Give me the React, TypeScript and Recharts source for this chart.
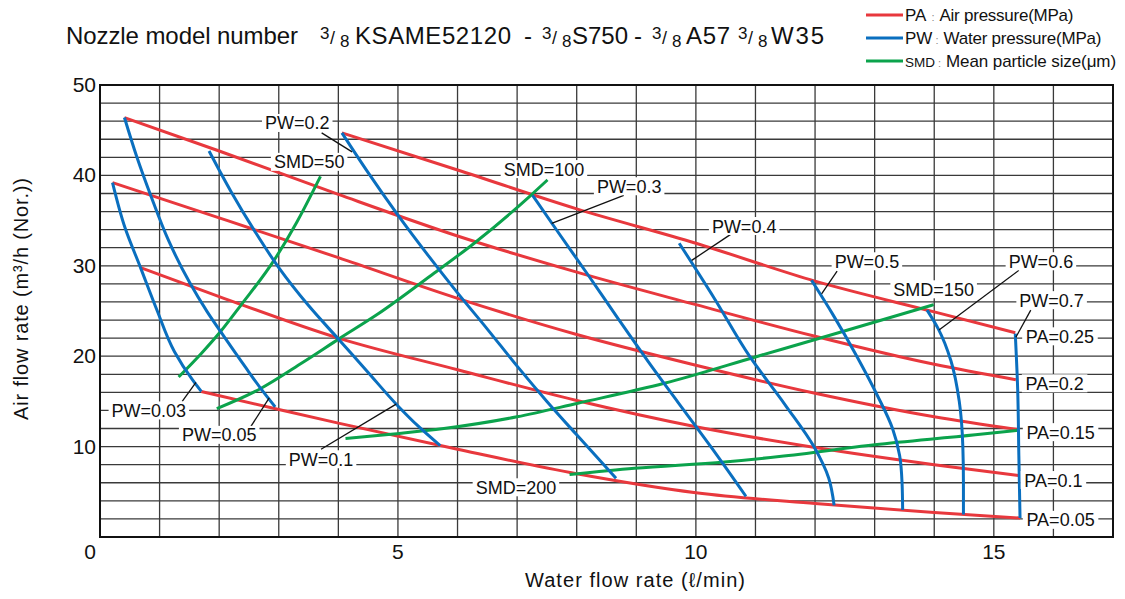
import React from 'react';
import {
  LineChart,
  Line,
  XAxis,
  YAxis,
  CartesianGrid,
  ReferenceLine,
  ReferenceDot,
  ReferenceArea,
} from 'recharts';

// PA: air pressure lines (MPa)
const pa025 = [[4.06, 44.7], [6, 40.6], [8, 36.3], [10, 32.5], [12, 28.3], [14, 24.9], [15.36, 22.6]];
const pa020 = [[0.41, 46.4], [2, 42.7], [4, 37.9], [6, 33.3], [8, 29.3], [10, 25.7], [12, 22.2], [14, 19.1], [15.37, 17.4]];
const pa015 = [[0.21, 39.2], [2, 35.3], [4, 30.9], [6, 26.4], [8, 22.4], [10, 19.0], [12, 15.9], [14, 13.3], [15.39, 11.9]];
const pa010 = [[0.68, 29.8], [2, 26.6], [4, 22.0], [6, 18.5], [8, 15.1], [10, 12.2], [12, 9.9], [14, 8.0], [15.42, 6.8]];
const pa005 = [[1.7, 16.1], [3, 14.1], [4, 12.6], [6, 9.7], [8, 7.0], [10, 4.9], [12, 3.7], [14, 2.7], [15.44, 2.1]];

// PW: water pressure curves (MPa), top to bottom
const pw003 = [[0.21, 39.2], [0.42, 34.2], [0.68, 29.8], [0.95, 25.2], [1.25, 20.5], [1.55, 17.4], [1.7, 16.1]];
const pw005 = [[0.41, 46.4], [0.62, 42.0], [0.85, 37.8], [1.15, 32.8], [1.5, 28.2], [1.8, 24.9], [2.1, 22.0], [2.45, 18.7], [2.69, 16.5], [2.94, 14.4]];
const pw01 = [[1.83, 42.7], [2.2, 38.2], [2.6, 33.8], [3.0, 29.8], [3.5, 25.6], [4.0, 21.9], [4.5, 18.2], [5.0, 14.5], [5.35, 12.2], [5.71, 10.1]];
const pw02 = [[4.06, 44.7], [4.5, 40.3], [5.0, 35.6], [5.5, 31.2], [6.0, 27.0], [6.5, 23.0], [7.0, 18.9], [7.5, 15.0], [8.0, 11.3], [8.66, 6.5]];
const pw03 = [[7.26, 37.8], [7.7, 33.6], [8.2, 28.9], [8.7, 24.1], [9.2, 19.4], [9.7, 14.9], [10.25, 10.0], [10.84, 4.5]];
const pw04 = [[9.72, 32.5], [10.3, 26.5], [10.9, 20.0], [11.5, 14.6], [11.98, 10.0], [12.23, 6.5], [12.32, 3.5]];
const pw05 = [[11.94, 28.4], [12.3, 24.6], [12.7, 20.0], [13.05, 15.6], [13.3, 12.0], [13.42, 9.0], [13.46, 6.0], [13.47, 3.0]];
const pw06 = [[13.88, 25.1], [14.07, 23.0], [14.28, 19.5], [14.42, 15.0], [14.48, 10.0], [14.49, 6.0], [14.49, 2.5]];
const pw07 = [[15.36, 22.5], [15.4, 16.4], [15.42, 9.0], [15.44, 2.1]];

// SMD: mean particle size curves (um)
const smd50 = [[1.32, 17.7], [1.7, 20.3], [2.02, 22.7], [2.36, 25.6], [2.92, 30.6], [3.3, 34.8], [3.7, 39.9]];
const smd100 = [[1.96, 14.2], [2.69, 16.4], [3.4, 19.3], [4.03, 22.0], [4.65, 24.6], [5.61, 29.2], [6.28, 32.5], [7.23, 37.8], [7.51, 39.5]];
const smd150 = [[4.12, 10.9], [4.93, 11.4], [5.77, 12.0], [7, 13.3], [8.02, 14.8], [9.47, 17.0], [11.04, 20.0], [12.45, 22.7], [13.99, 25.7]];
const smd200 = [[7.88, 6.9], [8.97, 7.6], [10.48, 8.3], [11.4, 8.9], [13.0, 10.2], [14.69, 11.3], [15.39, 11.8]];

const xTicks = [0, 1, 2, 3, 4, 5, 6, 7, 8, 9, 10, 11, 12, 13, 14, 15, 16, 17];
const yTicks = [0, 2, 4, 6, 8, 10, 12, 14, 16, 18, 20, 22, 24, 26, 28, 30, 32, 34, 36, 38, 40, 42, 44, 46, 48, 50];
const xLabelTicks = [0, 5, 10, 15];
const yLabelTicks = [10, 20, 30, 40, 50];

const curveLabels = [
  { text: 'PW=0.2', x: 3.31, y: 45.8 },
  { text: 'SMD=50', x: 3.51, y: 41.5 },
  { text: 'SMD=100', x: 7.45, y: 40.7 },
  { text: 'PW=0.3', x: 8.88, y: 38.8 },
  { text: 'PW=0.4', x: 10.81, y: 34.4 },
  { text: 'PW=0.5', x: 12.87, y: 30.5 },
  { text: 'SMD=150', x: 13.99, y: 27.4 },
  { text: 'PW=0.6', x: 15.79, y: 30.5 },
  { text: 'PW=0.7', x: 15.97, y: 26.2 },
  { text: 'PA=0.25', x: 16.11, y: 22.2 },
  { text: 'PA=0.2', x: 16.02, y: 17.0 },
  { text: 'PA=0.15', x: 16.12, y: 11.6 },
  { text: 'PA=0.1', x: 16.0, y: 6.3 },
  { text: 'PA=0.05', x: 16.12, y: 1.9 },
  { text: 'PW=0.03', x: 0.82, y: 14.0 },
  { text: 'PW=0.05', x: 2.0, y: 11.3 },
  { text: 'PW=0.1', x: 3.71, y: 8.6 },
  { text: 'SMD=200', x: 6.98, y: 5.5 },
];

const leaders = [
  [3.72, 44.7, 4.23, 42.6],
  [8.79, 37.8, 7.58, 34.7],
  [10.59, 33.5, 9.93, 30.6],
  [12.37, 29.4, 12.11, 26.9],
  [15.42, 29.5, 14.08, 22.9],
  [15.62, 25.1, 15.37, 22.1],
  [1.38, 15.0, 1.61, 17.1],
  [2.53, 12.2, 2.84, 15.4],
  [3.71, 9.7, 4.97, 14.7],
];

const RED = '#e8383d';
const BLUE = '#0a6fbf';
const GREEN = '#0ba34c';
const FONT = "'Liberation Sans', Arial, sans-serif";

const series = [
  { id: 'pa025', pts: pa025, color: RED, type: 'monotone' },
  { id: 'pa020', pts: pa020, color: RED, type: 'monotone' },
  { id: 'pa015', pts: pa015, color: RED, type: 'monotone' },
  { id: 'pa010', pts: pa010, color: RED, type: 'monotone' },
  { id: 'pa005', pts: pa005, color: RED, type: 'monotone' },
  { id: 'smd50', pts: smd50, color: GREEN, type: 'monotone' },
  { id: 'smd100', pts: smd100, color: GREEN, type: 'monotone' },
  { id: 'smd150', pts: smd150, color: GREEN, type: 'monotone' },
  { id: 'smd200', pts: smd200, color: GREEN, type: 'monotone' },
  { id: 'pw003', pts: pw003, color: BLUE, type: 'monotoneY' },
  { id: 'pw005', pts: pw005, color: BLUE, type: 'monotoneY' },
  { id: 'pw01', pts: pw01, color: BLUE, type: 'monotoneY' },
  { id: 'pw02', pts: pw02, color: BLUE, type: 'monotoneY' },
  { id: 'pw03', pts: pw03, color: BLUE, type: 'monotoneY' },
  { id: 'pw04', pts: pw04, color: BLUE, type: 'monotoneY' },
  { id: 'pw05', pts: pw05, color: BLUE, type: 'monotoneY' },
  { id: 'pw06', pts: pw06, color: BLUE, type: 'monotoneY' },
  { id: 'pw07', pts: pw07, color: BLUE, type: 'monotoneY' },
];

const charW: Record<string, number> = {
  P: 0.667, W: 0.944, A: 0.667, S: 0.667, M: 0.833, D: 0.722, '=': 0.584, '.': 0.278,
};
const measure = (s: string, fs: number) =>
  s.split('').reduce((acc, c) => acc + (charW[c] ?? 0.556), 0) * fs;

const LabelBox = ({ cx, cy, text }: any) => {
  const fs = 18;
  const w = measure(text, fs);
  return (
    <g>
      <rect x={cx - w / 2 - 3} y={cy - 9} width={w + 6} height={18} fill="#fff" />
      <text x={cx} y={cy + 6.5} textAnchor="middle" fontSize={fs} fontFamily={FONT} fill="#111">
        {text}
      </text>
    </g>
  );
};

const XTick = ({ x, y, payload }: any) => {
  if (!xLabelTicks.includes(payload.value)) return null;
  const dx = payload.value === 0 ? -10 : 0;
  return (
    <text x={x + dx} y={y + 14} textAnchor="middle" fontSize={21} fontFamily={FONT} fill="#111">
      {payload.value}
    </text>
  );
};

const YTick = ({ x, y, payload }: any) => {
  if (!yLabelTicks.includes(payload.value)) return null;
  return (
    <text x={x} y={y + 7} textAnchor="end" fontSize={21} fontFamily={FONT} fill="#111">
      {payload.value}
    </text>
  );
};

const Frac = ({ x }: { x: number }) => (
  <g fontFamily={FONT} fill="#111">
    <text x={x} y={39} fontSize={17}>3</text>
    <text x={x + 10} y={44} fontSize={18}>/</text>
    <text x={x + 20} y={47} fontSize={17}>8</text>
  </g>
);

const legendItems = [
  { code: 'PA', codeFs: 17, gap: 5, desc: 'Air pressure(MPa)', color: RED, y: 15, len: 134 },
  { code: 'PW', codeFs: 17, gap: 3, desc: 'Water pressure(MPa)', color: BLUE, y: 38, len: 158 },
  { code: 'SMD', codeFs: 13.5, gap: 3, desc: 'Mean particle size(\u03bcm)', color: GREEN, y: 61, len: 170 },
];

export default function App() {
  return (
    <div style={{ position: 'absolute', left: 0, top: 0, width: 1125, height: 599, background: '#fff' }}>
      <LineChart width={1125} height={599} margin={{ top: 85, right: 12, bottom: 0, left: 0 }}>
        <CartesianGrid stroke="#3a3a3a" strokeWidth={1.3} />
        <XAxis
          dataKey="x"
          type="number"
          domain={[0, 17]}
          ticks={xTicks}
          interval={0}
          height={62}
          tickLine={false}
          axisLine={{ stroke: '#111', strokeWidth: 2 }}
          tick={<XTick />}
          allowDataOverflow
        />
        <YAxis
          dataKey="y"
          type="number"
          domain={[0, 50]}
          ticks={yTicks}
          interval={0}
          width={100}
          tickSize={0}
          tickMargin={4}
          tickLine={false}
          axisLine={{ stroke: '#111', strokeWidth: 2 }}
          tick={<YTick />}
          allowDataOverflow
        />
        <ReferenceArea x1={0} x2={17} y1={0} y2={50} fill="none" stroke="#111" strokeWidth={2} />
        {series.map((s) => (
          <Line
            key={s.id}
            data={s.pts.map(([x, y]) => ({ x, y }))}
            dataKey="y"
            type={s.type as any}
            stroke={s.color}
            strokeWidth={3}
            dot={false}
            activeDot={false}
            isAnimationActive={false}
          />
        ))}
        {leaders.map(([x1, y1, x2, y2], i) => (
          <ReferenceLine
            key={'ld' + i}
            segment={[{ x: x1, y: y1 }, { x: x2, y: y2 }]}
            stroke="#111"
            strokeWidth={1.3}
          />
        ))}
        {curveLabels.map((l) => (
          <ReferenceDot
            key={l.text}
            x={l.x}
            y={l.y}
            r={1}
            shape={(p: any) => <LabelBox cx={p.cx} cy={p.cy} text={l.text} />}
          />
        ))}
      </LineChart>
      <svg
        width={1125}
        height={599}
        style={{ position: 'absolute', left: 0, top: 0, pointerEvents: 'none' }}
      >
        <g fontFamily={FONT} fill="#111">
          <text x={66} y={44} fontSize={24} textLength={232}>Nozzle model number</text>
          <Frac x={320} />
          <text x={355} y={44} fontSize={24} textLength={156}>KSAME52120</text>
          <text x={524} y={44} fontSize={24}>-</text>
          <Frac x={542} />
          <text x={572} y={44} fontSize={24} textLength={56}>S750</text>
          <text x={634} y={44} fontSize={24}>-</text>
          <Frac x={652} />
          <text x={686} y={44} fontSize={24} textLength={44}>A57</text>
          <Frac x={738} />
          <text x={771} y={44} fontSize={24} textLength={53}>W35</text>
        </g>
        {legendItems.map((it) => (
          <g key={it.code} fontFamily={FONT} fill="#111">
            <line x1={866} x2={903} y1={it.y} y2={it.y} stroke={it.color} strokeWidth={3} />
            <text x={905} y={it.y + 6} fontSize={17}>
              <tspan fontSize={it.codeFs}>{it.code}</tspan>
              <tspan dx={it.gap} fontSize={11} fill="#888">:</tspan>
              <tspan dx={5} textLength={it.len}>{it.desc}</tspan>
            </text>
          </g>
        ))}
        <text x={635} y={587} textAnchor="middle" fontSize={20} fontFamily={FONT} fill="#111" textLength={220}>
          Water flow rate ({'\u2113'}/min)
        </text>
        <text
          transform="translate(28,299) rotate(-90)"
          textAnchor="middle"
          fontSize={20}
          fontFamily={FONT}
          fill="#111"
          textLength={242}
        >
          Air flow rate (m{'\u00b3'}/h (Nor.))
        </text>
      </svg>
    </div>
  );
}
